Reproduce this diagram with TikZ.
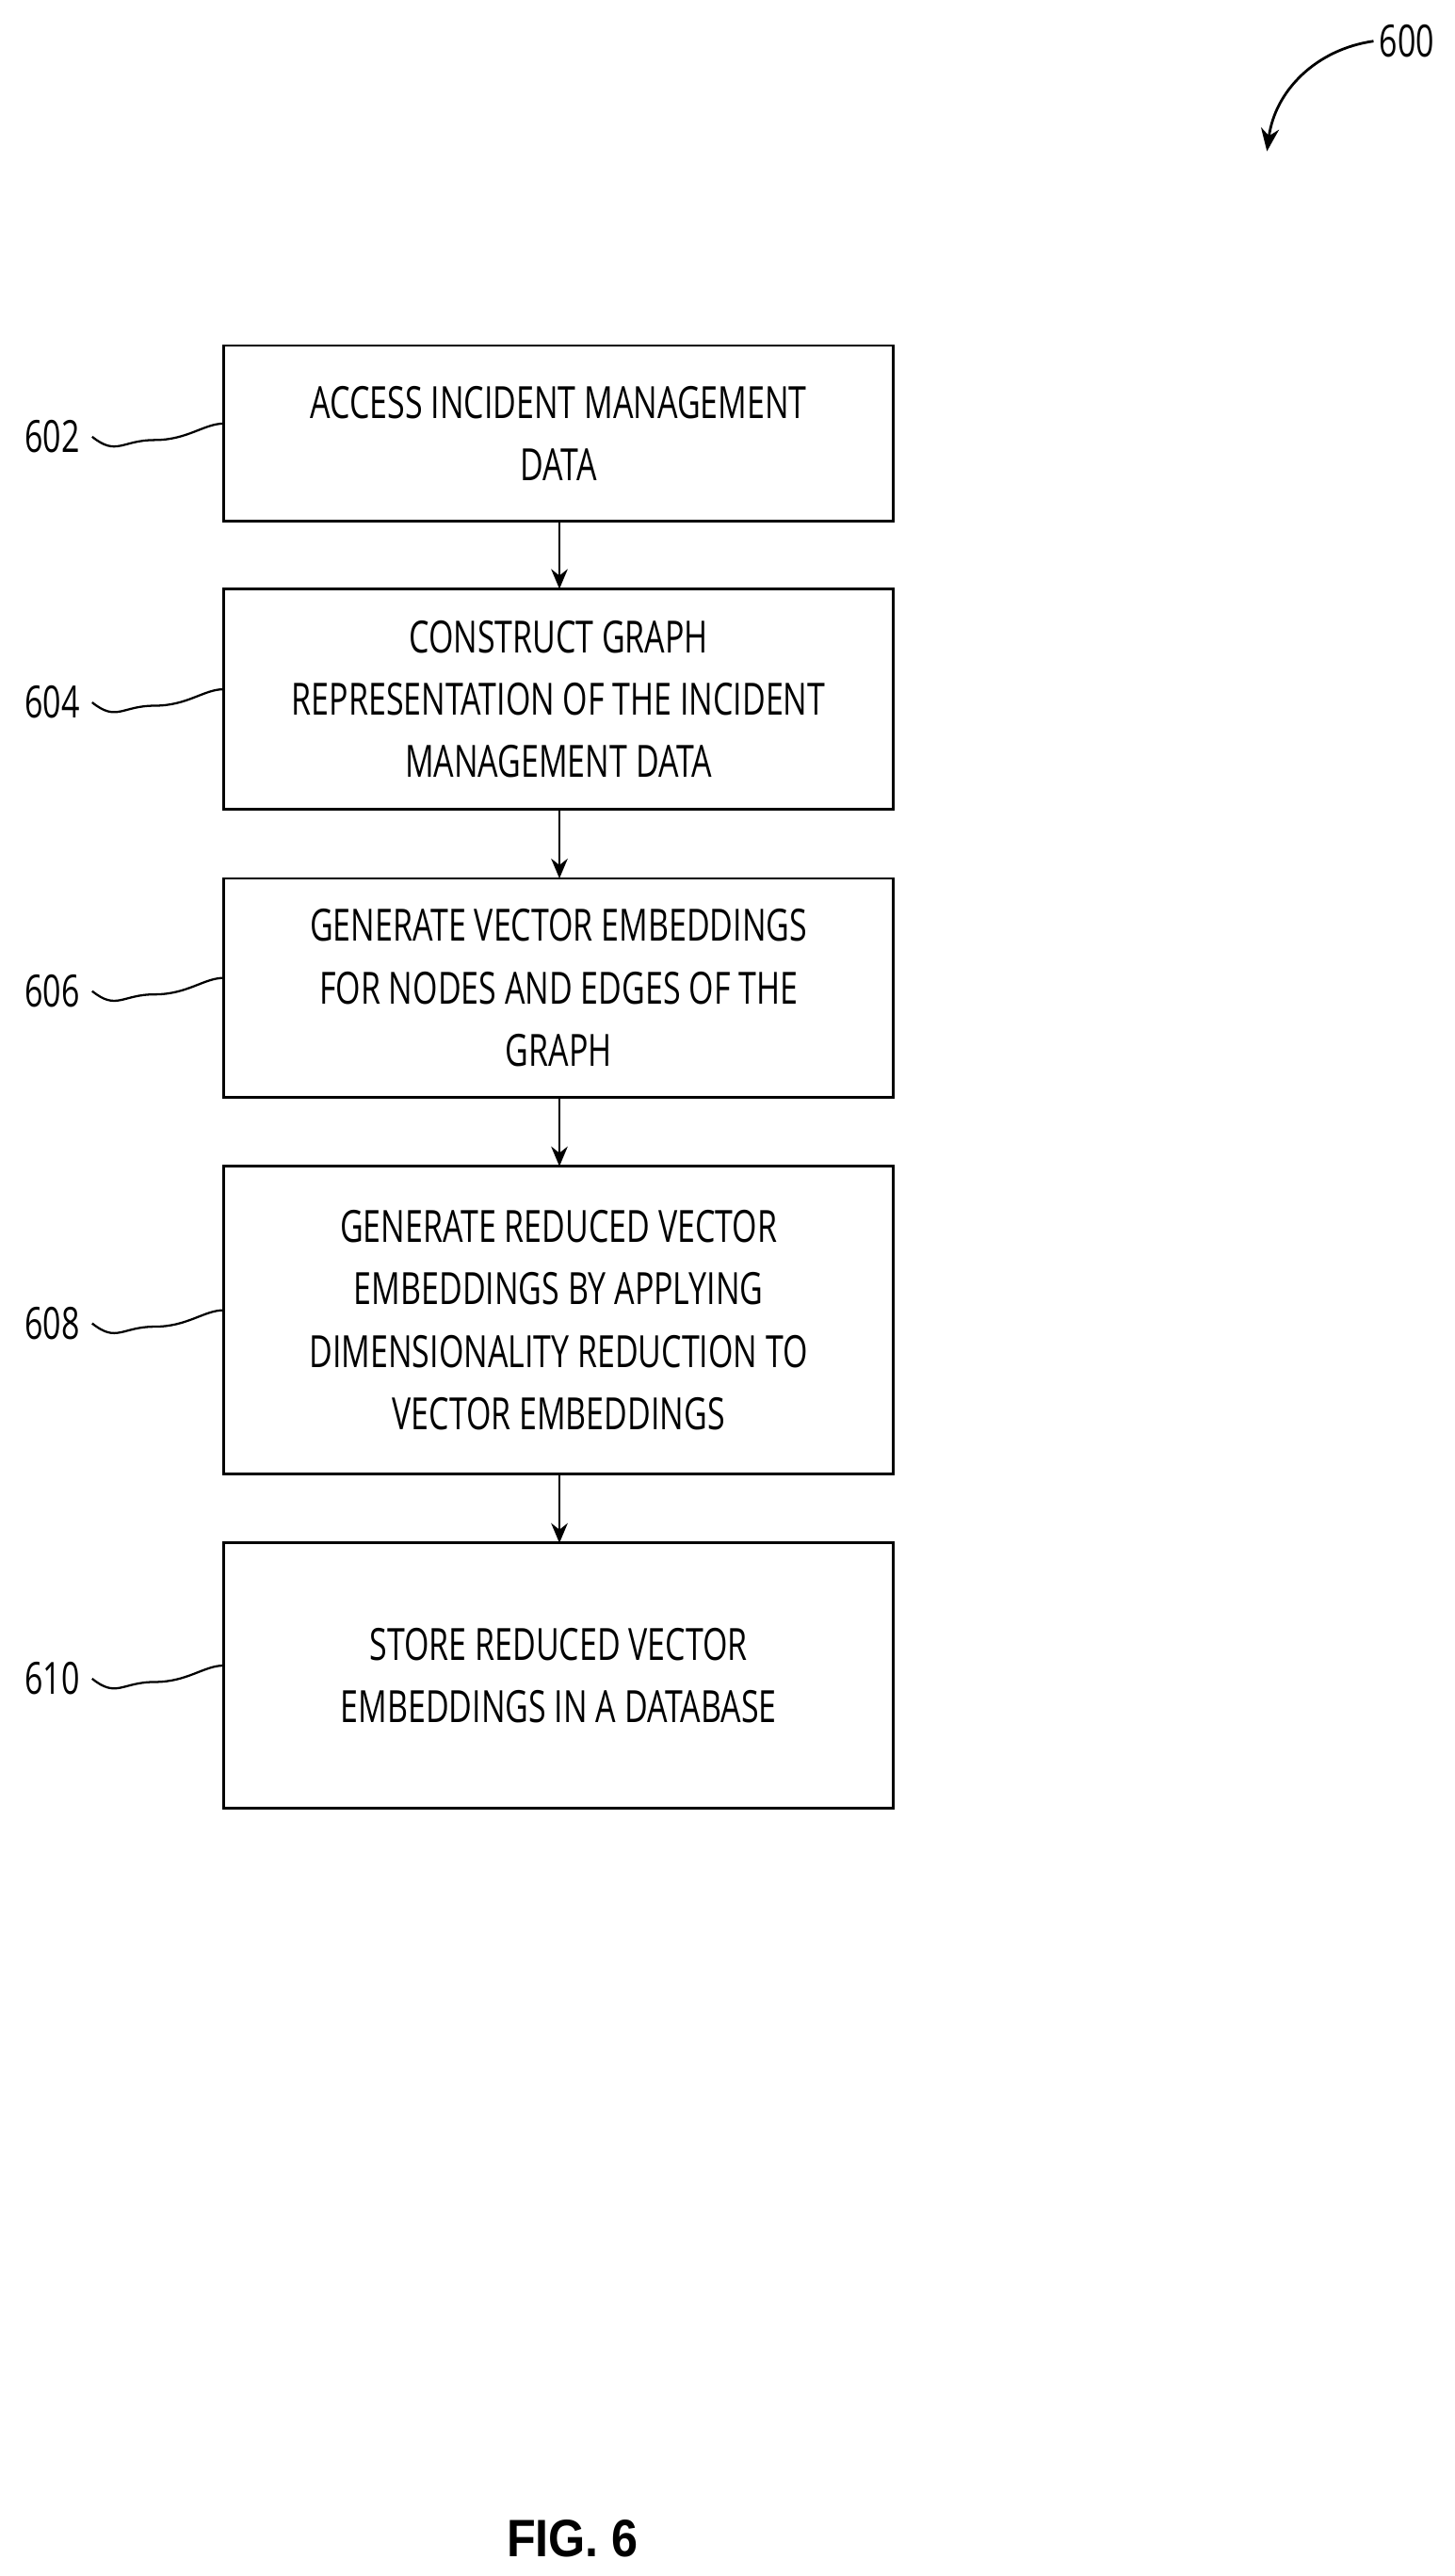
\documentclass[tikz,border=0pt]{standalone}
\usetikzlibrary{arrows.meta}
\usepackage{fontspec}
\setmainfont{Open Sans}[FakeStretch=0.72]
\newfontfamily\figfont{Liberation Sans}[FakeStretch=0.9]
\begin{document}
\begin{tikzpicture}[x=1pt,y=-1pt,
  box/.style={draw,line width=1.6pt,align=center,font=\fontsize{27}{38}\selectfont},
  lab/.style={font=\fontsize{27}{30}\selectfont,anchor=east},
  arr/.style={-{Stealth[length=12pt,width=10pt]},line width=1.6pt},
  wav/.style={line width=1.3pt}]
\useasboundingbox (0,0) rectangle (884,1566);
\foreach \n/\ya/\yb/\t in {602/210/317/{ACCESS INCIDENT MANAGEMENT\\DATA},
  604/358/492/{CONSTRUCT GRAPH\\REPRESENTATION OF THE INCIDENT\\MANAGEMENT DATA},
  606/534/667/{GENERATE VECTOR EMBEDDINGS\\FOR NODES AND EDGES OF THE\\GRAPH},
  608/709/896/{GENERATE REDUCED VECTOR\\EMBEDDINGS BY APPLYING\\DIMENSIONALITY REDUCTION TO\\VECTOR EMBEDDINGS},
  610/938/1099/{STORE REDUCED VECTOR\\EMBEDDINGS IN A DATABASE}}{
  \draw[line width=1.6pt] (136,\ya) rectangle (543,\yb);
  \node[box,draw=none] (b\n) at (339.5,{(\ya+\yb)/2}) {\t};
  \coordinate (w\n) at (136,{(\ya+\yb)/2-6});
  \node[lab] (l\n) at (52,{(\ya+\yb)/2+2}) {\n};
  \draw[wav] (l\n.east) ++(4,0) .. controls +(15,12) and +(-20,0) .. ++(38,2) .. controls +(20,0) and +(-12,0) .. (w\n);
}
\draw[arr] (340,317) -- (340,358);
\draw[arr] (340,492) -- (340,534);
\draw[arr] (340,667) -- (340,709);
\draw[arr] (340,896) -- (340,938);
\node[font=\fontsize{27}{30}\selectfont] (t600) at (855,25) {600};
\coordinate (a600) at (770,92);
\draw[-{Stealth[length=14pt,width=11pt]},line width=1.6pt] (t600.west) .. controls (800,30) and (775,55) .. (a600);
\node[font=\figfont\bfseries\fontsize{32}{36}\selectfont] (fig) at (348,1543) {FIG. 6};
\end{tikzpicture}
\end{document}
